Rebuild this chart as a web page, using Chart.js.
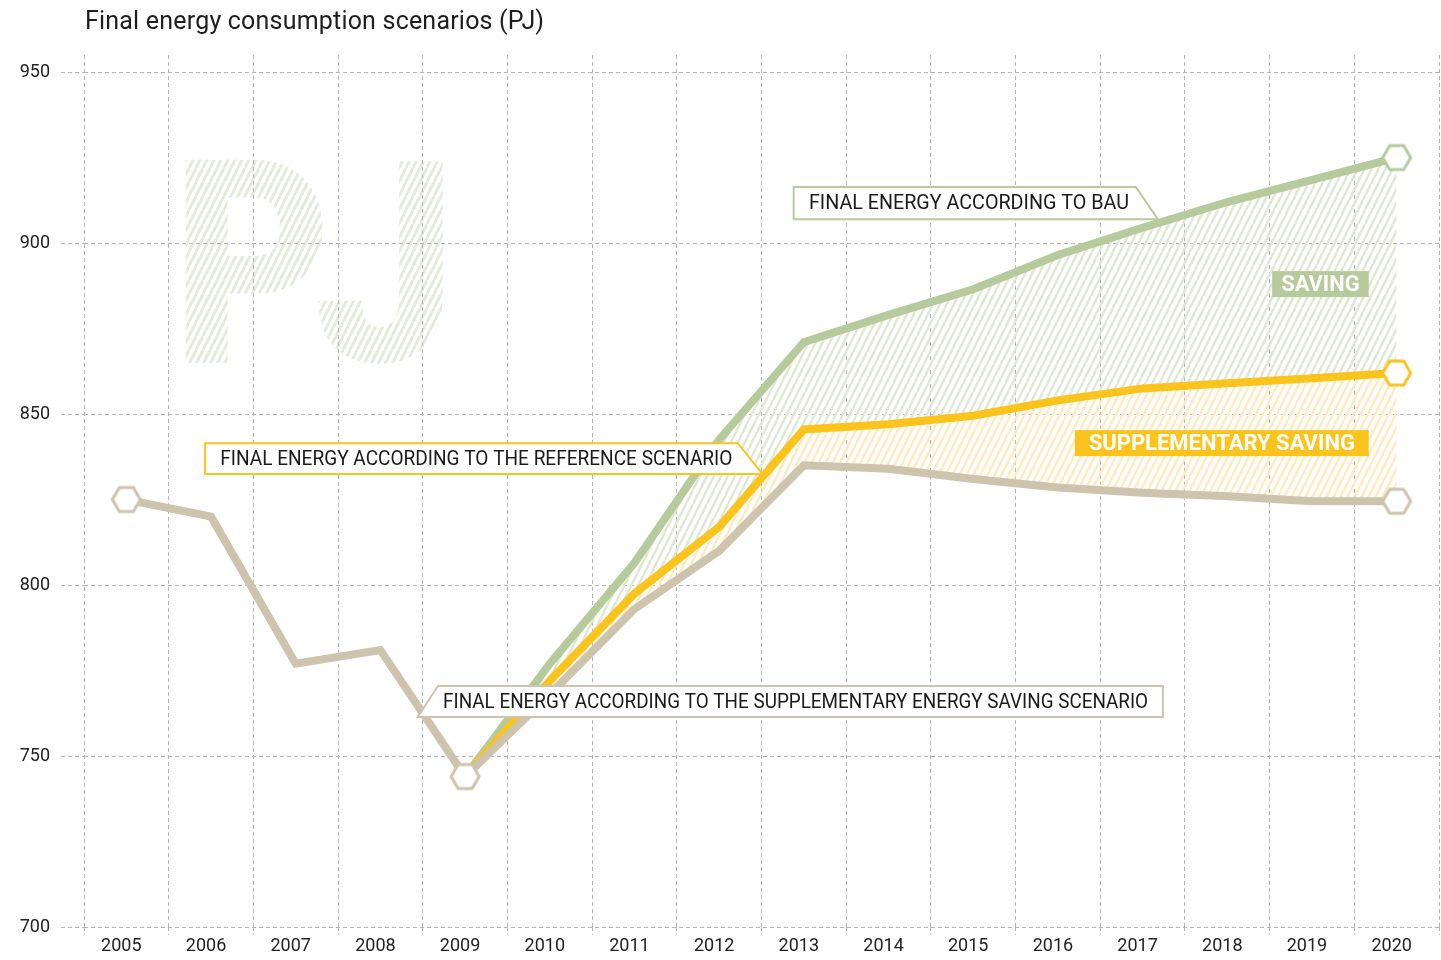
<!DOCTYPE html>
<html>
<head>
<meta charset="utf-8">
<script src="https://cdn.jsdelivr.net/npm/chart.js@4.4.1/dist/chart.umd.min.js"></script>
<style>
  body { margin: 0; background: #fff; }
  #wrap { position: relative; width: 1441px; height: 960px; }
  #title { position: absolute; left: 85px; top: 6px; font: 400 25px Roboto, sans-serif; color: #1e1e1e; letter-spacing: 0.2px; }
  canvas { position: absolute; left: 0; top: 0; }
</style>
</head>
<body>
<div id="wrap">
  <canvas id="energyChart" width="1441" height="960"></canvas>
  <div id="title">Final energy consumption scenarios (PJ)</div>
</div>
<script>
// values (PJ)
const years = ['2005', '2006', '2007', '2008', '2009', '2010', '2011', '2012',
               '2013', '2014', '2015', '2016', '2017', '2018', '2019', '2020'];
const supplementary = [825, 820, 777, 781, 744, 768, 793, 810, 835, 834, 831, 828.5, 827, 826, 824.5, 824.5];
const reference = [null, null, null, null, 744, 772, 797.5, 817, 845.5, 847, 849.5, 854, 857.5, 859, 860.5, 862];
const bau = [null, null, null, null, 744, 777, 806.5, 842.5, 871, 879, 886.5, 896.5, 904.5, 912, 918.5, 925];
const yTicks = [700, 750, 800, 850, 900, 950];

// which points carry a hexagon
const suppMarkers = [0, 4, 15];
const refMarkers = [15];
const bauMarkers = [15];

const GREEN = '#b7ca9c';
const YELLOW = '#fbc41c';
const BEIGE = '#cec3ac';

const canvas = document.getElementById('energyChart');
const mainCtx = canvas.getContext('2d');

function hatch(color, w, h, lw) {
    const c = document.createElement('canvas');
    c.width = w; c.height = h;
    const g = c.getContext('2d');
    g.strokeStyle = color;
    g.lineWidth = lw;
    for (const dx of [-w, 0, w]) {
        g.beginPath();
        g.moveTo(dx, h);
        g.lineTo(dx + w, 0);
        g.stroke();
    }
    return mainCtx.createPattern(c, 'repeat');
}

function hexagon(color) {
    const c = document.createElement('canvas');
    c.width = 34; c.height = 30;
    const g = c.getContext('2d');
    const cx = 17, cy = 15, r = 14, ry = 12;
    g.beginPath();
    g.moveTo(cx - r, cy);
    g.lineTo(cx - r / 2, cy - ry);
    g.lineTo(cx + r / 2, cy - ry);
    g.lineTo(cx + r, cy);
    g.lineTo(cx + r / 2, cy + ry);
    g.lineTo(cx - r / 2, cy + ry);
    g.closePath();
    g.fillStyle = '#fff';
    g.fill();
    g.lineWidth = 3;
    g.strokeStyle = color;
    g.stroke();
    return c;
}

const greenHatch = hatch('#dfe8d3', 7, 14, 2.4);
const yellowHatch = hatch('#fdeac0', 7, 14, 2.4);
const pjHatch = hatch('#e3eada', 7, 14, 2.8);

// callouts, in axis units (x = category index, y = PJ)
const callouts = [
    { text: 'FINAL ENERGY ACCORDING TO BAU', color: GREEN,
      shape: [[7.88, 916.4], [11.92, 916.4], [12.18, 907.0], [7.88, 907.0]], tx: 8.06, tw: 320 },
    { text: 'FINAL ENERGY ACCORDING TO THE REFERENCE SCENARIO', color: YELLOW,
      shape: [[0.93, 841.5], [7.22, 841.5], [7.51, 832.5], [0.93, 832.5]], tx: 1.11, tw: 512 },
    { text: 'FINAL ENERGY ACCORDING TO THE SUPPLEMENTARY ENERGY SAVING SCENARIO', color: BEIGE,
      shape: [[3.68, 770.5], [12.24, 770.5], [12.24, 761.4], [3.44, 761.4]], tx: 3.74, tw: 705 }
];
const tags = [
    { text: 'SAVING', color: GREEN, x0: 13.53, x1: 14.67, y0: 891.8, y1: 884.2 },
    { text: 'SUPPLEMENTARY SAVING', color: YELLOW, x0: 11.2, x1: 14.67, y0: 845.3, y1: 837.7 }
];
const glyphs = [
    { text: 'P', x0: 0.69, x1: 2.32, y0: 924.3, y1: 864.6 },
    { text: 'J', x0: 2.26, x1: 3.74, y0: 924.3, y1: 864.6 }
];

const watermark = {
    id: 'watermark',
    beforeDraw(chart) {
        const { ctx, scales: { x, y } } = chart;
        ctx.save();
        ctx.font = '900 200px Roboto';
        ctx.fillStyle = pjHatch;
        glyphs.forEach(g => {
            const l = x.getPixelForValue(g.x0), r = x.getPixelForValue(g.x1);
            const t = y.getPixelForValue(g.y0), b = y.getPixelForValue(g.y1);
            const m = ctx.measureText(g.text);
            const w = m.actualBoundingBoxLeft + m.actualBoundingBoxRight;
            const h = m.actualBoundingBoxAscent + m.actualBoundingBoxDescent;
            ctx.save();
            ctx.translate(l, t);
            ctx.scale((r - l) / w, (b - t) / h);
            pjHatch.setTransform(ctx.getTransform().inverse());
            ctx.fillText(g.text, m.actualBoundingBoxLeft, m.actualBoundingBoxAscent);
            ctx.restore();
        });
        pjHatch.setTransform(new DOMMatrix());
        ctx.restore();
    }
};

const labels = {
    id: 'labels',
    afterDatasetsDraw(chart) {
        const { ctx, scales: { x, y } } = chart;
        ctx.save();
        callouts.forEach(c => {
            ctx.beginPath();
            c.shape.forEach(([vx, vy], i) => {
                const px = x.getPixelForValue(vx), py = y.getPixelForValue(vy);
                if (i === 0) ctx.moveTo(px, py); else ctx.lineTo(px, py);
            });
            ctx.closePath();
            ctx.fillStyle = '#fff';
            ctx.fill();
            ctx.lineWidth = 2;
            ctx.strokeStyle = c.color;
            ctx.stroke();
            const mid = (y.getPixelForValue(c.shape[0][1]) + y.getPixelForValue(c.shape[3][1])) / 2;
            ctx.font = '400 21px Roboto';
            ctx.fillStyle = '#1a1a1a';
            ctx.textBaseline = 'middle';
            ctx.textAlign = 'left';
            ctx.fillText(c.text, x.getPixelForValue(c.tx), mid + 1, c.tw);
        });
        tags.forEach(t => {
            const l = x.getPixelForValue(t.x0), r = x.getPixelForValue(t.x1);
            const tp = y.getPixelForValue(t.y0), b = y.getPixelForValue(t.y1);
            ctx.fillStyle = t.color;
            ctx.fillRect(l, tp, r - l, b - tp);
            ctx.font = '700 22px Roboto';
            ctx.fillStyle = '#fff';
            ctx.textBaseline = 'middle';
            ctx.textAlign = 'center';
            ctx.fillText(t.text, (l + r) / 2, (tp + b) / 2 + 1, r - l - 18);
        });
        ctx.restore();
    }
};

const chart = new Chart(canvas, {
    type: 'line',
    data: {
        labels: years,
        datasets: [{
            label: 'Supplementary energy saving scenario',
            data: supplementary,
            borderColor: BEIGE,
            borderWidth: 8,
            fill: false,
            pointStyle: hexagon(BEIGE),
            pointRadius: c => suppMarkers.includes(c.dataIndex) ? 14 : 0
        }, {
            label: 'Reference scenario',
            data: reference,
            borderColor: YELLOW,
            backgroundColor: yellowHatch,
            borderWidth: 8,
            fill: '-1',
            pointStyle: hexagon(YELLOW),
            pointRadius: c => refMarkers.includes(c.dataIndex) ? 14 : 0
        }, {
            label: 'BAU',
            data: bau,
            borderColor: GREEN,
            backgroundColor: greenHatch,
            borderWidth: 8,
            fill: '-1',
            pointStyle: hexagon(GREEN),
            pointRadius: c => bauMarkers.includes(c.dataIndex) ? 14 : 0
        }]
    },
    options: {
        responsive: false,
        animation: false,
        events: [],
        layout: { autoPadding: false, padding: { top: 55, right: 2, left: 0, bottom: 0 } },
        elements: { line: { tension: 0, borderJoinStyle: 'miter', borderCapStyle: 'butt' } },
        plugins: {
            legend: { display: false },
            tooltip: { enabled: false }
        },
        scales: {
            x: {
                offset: true,
                grid: { offset: true, color: '#b5b5b5', tickLength: 8, tickBorderDash: [4, 3] },
                border: { display: false, dash: [4, 3] },
                ticks: {
                    font: { family: 'Roboto', size: 18 },
                    color: '#222',
                    padding: 1,
                    labelOffset: -5,
                    maxRotation: 0,
                    autoSkip: false
                },
                afterFit: s => { s.height = 33; s.paddingLeft = 0; s.paddingRight = 0; }
            },
            y: {
                min: 700,
                max: 955,
                grid: { color: '#b5b5b5', tickLength: 23, tickBorderDash: [4, 3] },
                border: { display: false, dash: [4, 3] },
                ticks: {
                    font: { family: 'Roboto', size: 18 },
                    color: '#222',
                    padding: 11
                },
                afterBuildTicks: s => { s.ticks = yTicks.map(v => ({ value: v })); },
                afterFit: s => { s.width = 84; s.paddingTop = 0; s.paddingBottom = 0; }
            }
        }
    },
    plugins: [watermark, labels]
});
</script>
</body>
</html>
